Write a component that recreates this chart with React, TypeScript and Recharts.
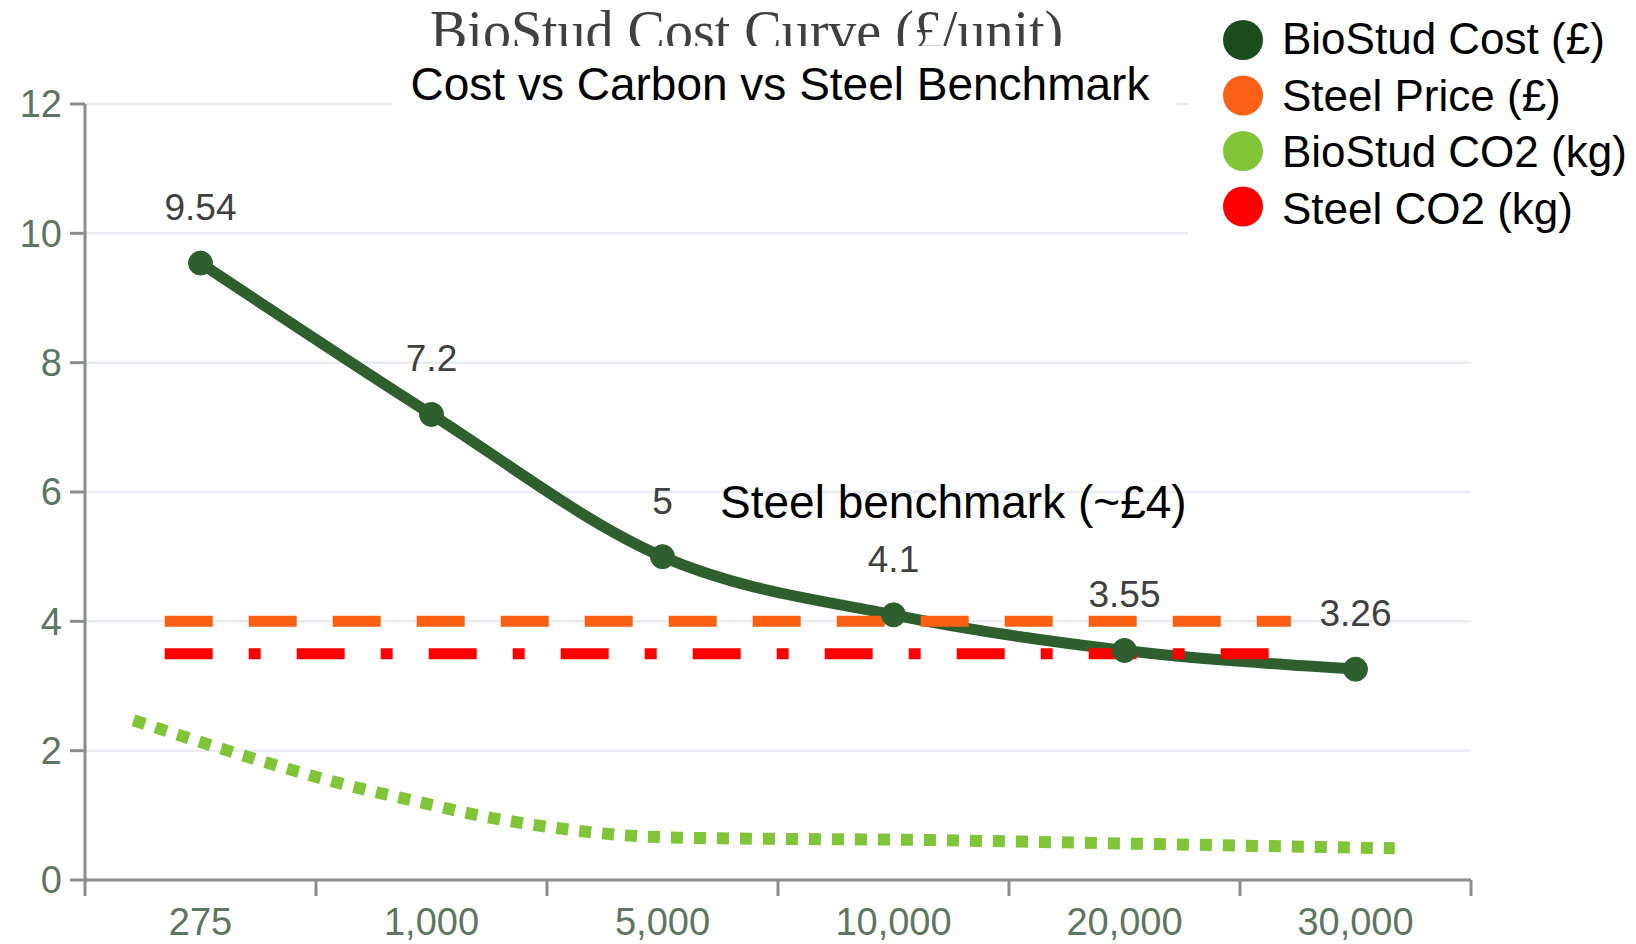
import React from "react"
import { LineChart, Line, XAxis, YAxis, CartesianGrid, LabelList } from "recharts"

// volumes (units) along the bottom
const categories = ["275", "1,000", "5,000", "10,000", "20,000", "30,000"]
const biostudCost = [9.54, 7.2, 5, 4.1, 3.55, 3.26]

// overlay series, x measured in category widths from the y axis
const steelPriceX = [0.345, 5.22]
const steelPriceY = [4, 4]
const steelCo2X = [0.345, 5.13]
const steelCo2Y = [3.5, 3.5]
const biostudCo2X = [0.21, 0.53, 0.82, 1.12, 1.43, 1.73, 2.05, 2.34, 2.65, 3.6, 4.64, 5.67]
const biostudCo2Y = [2.47, 2.1, 1.78, 1.48, 1.22, 0.98, 0.8, 0.69, 0.65, 0.62, 0.555, 0.49]

const yTicks = [0, 2, 4, 6, 8, 10, 12]
const seriesNames = ["BioStud Cost (£)", "Steel Price (£)", "BioStud CO2 (kg)", "Steel CO2 (kg)"]

const title = "BioStud Cost Curve (£/unit)"
const subtitle = "Cost vs Carbon vs Steel Benchmark"
const benchmarkNote = "Steel benchmark (~£4)"

const legendColors = ["#1b4d1e", "#fa6016", "#80c437", "#ff0000"]
const axisColor = "#8c8c8c"
const tickColor = "#5e7561"
const font = "'Liberation Sans', Arial, sans-serif"

const costData = biostudCost.map((v, i) => ({ x: i + 0.5, v }))
const steelPriceData = steelPriceX.map((x, i) => ({ x, v: steelPriceY[i] }))
const steelCo2Data = steelCo2X.map((x, i) => ({ x, v: steelCo2Y[i] }))
const co2Data = biostudCo2X.map((x, i) => ({ x, v: biostudCo2Y[i] }))

// boundaries get tick marks, centres get labels
const xTicks: number[] = []
for (let i = 0; i <= categories.length; i++) {
  xTicks.push(i)
  if (i < categories.length) xTicks.push(i + 0.5)
}

function XTick({ x, y, payload }: any) {
  const v = payload.value
  if (Number.isInteger(v)) {
    return <line x1={x} x2={x} y1={y} y2={y + 16} stroke={axisColor} strokeWidth={3} />
  }
  return (
    <text x={x} y={y + 55} textAnchor="middle" fill={tickColor} fontSize={38} fontFamily={font}>
      {categories[Math.floor(v)]}
    </text>
  )
}

export default function App() {
  return (
    <div style={{ position: "absolute", left: 0, top: 0, width: 1636, height: 944, background: "#fff", overflow: "hidden" }}>
      <LineChart width={1636} height={944} margin={{ top: 104, right: 165, bottom: 0, left: 0 }}>
        <CartesianGrid vertical={false} stroke="#e8ebf2" strokeWidth={2.5} />
        <XAxis
          dataKey="x"
          type="number"
          domain={[0, categories.length]}
          ticks={xTicks}
          interval={0}
          height={64}
          tickSize={0}
          tickMargin={0}
          tickLine={false}
          axisLine={{ stroke: axisColor, strokeWidth: 3 }}
          tick={<XTick />}
        />
        <YAxis
          type="number"
          domain={[0, 12]}
          ticks={yTicks}
          interval={0}
          width={85}
          tickSize={15}
          tickMargin={8}
          axisLine={{ stroke: axisColor, strokeWidth: 3 }}
          tickLine={{ stroke: axisColor, strokeWidth: 3 }}
          tick={{ fill: tickColor, fontSize: 38, fontFamily: font }}
        />
        <Line
          data={costData}
          dataKey="v"
          type="monotone"
          stroke="#2f5f2f"
          strokeWidth={11}
          dot={{ r: 12, fill: "#2f5f2f", stroke: "#2f5f2f", strokeWidth: 1 }}
          isAnimationActive={false}
        >
          <LabelList dataKey="v" position="top" offset={43} fill="#404040" fontSize={37} fontFamily={font} />
        </Line>
        <Line
          data={steelPriceData}
          dataKey="v"
          type="linear"
          stroke="#fa5f14"
          strokeWidth={11}
          strokeDasharray="48 36"
          dot={false}
          isAnimationActive={false}
        />
        <Line
          data={steelCo2Data}
          dataKey="v"
          type="linear"
          stroke="#ff0000"
          strokeWidth={11}
          strokeDasharray="48 36 12 36"
          dot={false}
          isAnimationActive={false}
        />
        <Line
          data={co2Data}
          dataKey="v"
          type="monotone"
          stroke="#80c437"
          strokeWidth={12}
          strokeDasharray="12 11"
          dot={false}
          isAnimationActive={false}
        />
      </LineChart>

      {/* pasted-on title, subtitle and legend */}
      <svg width={1636} height={944} style={{ position: "absolute", left: 0, top: 0, pointerEvents: "none" }}>
        <text x={430} y={50} fontSize={56} fontFamily="'Liberation Serif', 'Times New Roman', serif" fill="#404040">
          {title}
        </text>
        <rect x={391} y={46} width={785} height={64} fill="#fff" />
        <text x={780} y={100} textAnchor="middle" fontSize={46} fontFamily={font} fill="#000">
          {subtitle}
        </text>
        <rect x={1188} y={0} width={448} height={250} fill="#fff" />
        {seriesNames.map((name, i) => (
          <g key={name}>
            <circle cx={1243} cy={40 + i * 55.5} r={20} fill={legendColors[i]} />
            <text x={1282} y={54 + i * 56.5} fontSize={44} fontFamily={font} fill="#000">
              {name}
            </text>
          </g>
        ))}
        <text x={720} y={518} fontSize={46} fontFamily={font} fill="#000">
          {benchmarkNote}
        </text>
      </svg>
    </div>
  )
}
